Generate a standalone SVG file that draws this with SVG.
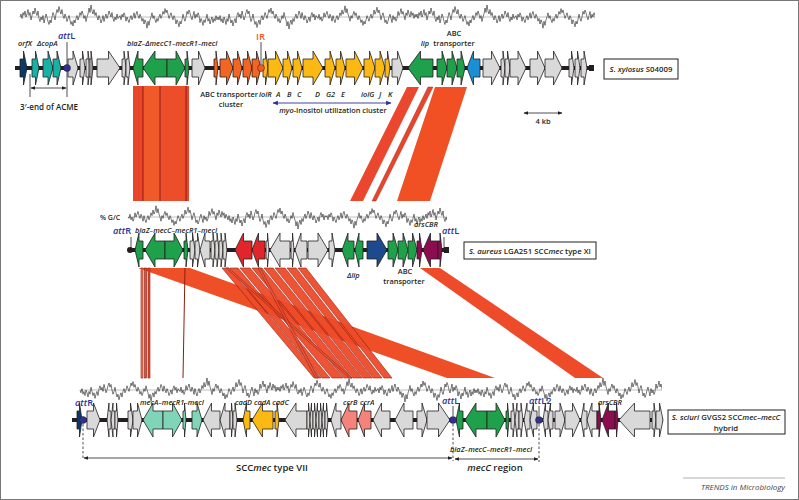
<svg xmlns="http://www.w3.org/2000/svg" xmlns:xlink="http://www.w3.org/1999/xlink" width="799" height="500" viewBox="0 0 799 500">
<style>
text{font-family:"Open Sans","Liberation Sans",sans-serif;fill:#231f20;font-size:7.4px;font-weight:600}
.it{font-style:italic}
.att{fill:#2e3192;font-size:9.2px;font-weight:600}
.bb{stroke:#231f20;stroke-width:4}
.gy{fill:#d9d9d9}.gd{fill:#9a9a9a}.gr{fill:#1fa04a}.or{fill:#f26522}.ye{fill:#fdb913}
.lb{fill:#1b8fd6}.nv{fill:#1c4a8c}.nv0{fill:#0b3a66}.te{fill:#17b2a5}.mi{fill:#80d4b8}
.rd{fill:#e0262b}.pk{fill:#f4837b}.ma{fill:#8c0d4f}
.bl{stroke:#8c1d12;stroke-width:0.6;fill:#ee4b2a}
.gc{fill:none;stroke:#231f20;stroke-width:0.6}
.base{stroke:#b0b0b0;stroke-width:0.8}
.box{fill:#fff;stroke:#231f20;stroke-width:1}
.ln{stroke:#231f20;stroke-width:0.8;fill:none}
</style>
<defs>
<polygon id="r" points="0,-9 0.5,-9 0.5,-17 1,0 0.5,17 0.5,9 0,9" stroke="#231f20" stroke-width="0.8" vector-effect="non-scaling-stroke"/>
<path id="n" class="gc" vector-effect="non-scaling-stroke" d="M0,0L1,-2 2,1 3,-3 4,-1 5,-4 6,0 7,-2 8,-5 9,-1 10,-3 11,2 12,-1 13,-4 14,-2 15,-6 16,-3 17,-1 18,-4 19,1 20,3 21,0 22,2 23,-1 24,4 25,1 26,-2 27,0 28,3 29,5 30,2 31,4 32,0 33,-3 34,-1 35,2 36,-2 37,-5 38,-3 39,-7 40,-4 41,-2 42,-5 43,-1 44,1 45,-2 46,0 47,3 48,1 49,-1 50,2 51,5 52,3 53,6 54,2 55,4 56,1 57,-1 58,2 59,0 60,-3 61,-1 62,-4 63,-2 64,1 65,-1 66,3 67,0 68,-2 69,-6 70,-3 71,-8 72,-4 73,-2 74,-5 75,-1 76,-3 77,0 78,2 79,-1 80,1 81,4 82,2 83,-1 84,3 85,0 86,-2 87,1 88,-1 89,-4 90,-2 91,0 92,-3 93,1 94,3 95,0 96,2 97,-2 98,1 99,0"/>
<marker id="ah" viewBox="0 0 10 10" refX="9" refY="5" markerWidth="6" markerHeight="6" orient="auto-start-reverse"><path d="M0,1L10,5L0,9z" fill="#231f20"/></marker>
<marker id="ahb" viewBox="0 0 10 10" refX="9" refY="5" markerWidth="6" markerHeight="6" orient="auto-start-reverse"><path d="M0,1L10,5L0,9z" fill="#2e3192"/></marker>
<clipPath id="c1"><rect x="18" y="0" width="577" height="40"/></clipPath>
<clipPath id="c2"><rect x="126" y="200" width="321" height="35"/></clipPath>
<clipPath id="c3"><rect x="78" y="372" width="584" height="35"/></clipPath>
</defs>
<rect x="0.5" y="0.5" width="798" height="499" fill="#fff" stroke="#777"/>

<g id="connectors">
<rect x="133" y="86" width="10" height="115" fill="#e8452b"/>
<rect x="143" y="86" width="17" height="115" fill="#f05a2a"/>
<rect x="160" y="86" width="26" height="115" fill="#ec4e2a"/>
<rect x="186" y="86" width="3" height="115" fill="#e8452b"/>
<path d="M143,86V201M160,86V201M186,86V201" stroke="#8c1d12" stroke-width="1"/>
<polygon points="407,87 419,87 363,201 350,201" fill="#eb462e"/>
<polygon points="428,87 433,87 376,201 372,201" fill="#e8452b" stroke="#8c1d12" stroke-width="0.4"/>
<polygon points="435,87 467,87 430,201 397,201" fill="#f05023"/>
<polygon points="138,268 190,268 495,378 447,378" fill="#ee4f26"/>
<rect x="141" y="268" width="2" height="110" class="bl" style="fill:#f47b5a"/>
<rect x="144.5" y="268" width="2" height="110" class="bl"/>
<rect x="148" y="268" width="2" height="110" class="bl"/>
<path d="M185,268L183,378" stroke="#8c1d12" stroke-width="1"/>
<g class="bl" opacity="0.95">
<polygon points="222,268 229,268 321,378 314,378"/>
<polygon points="230,268 238,268 330,378 322,378"/>
<polygon points="240,268 250,268 343,378 332,378"/>
<polygon points="252,268 262,268 352,378 344,378"/>
<polygon points="264,268 273,268 362,378 353,378"/>
<polygon points="275,268 285,268 372,378 363,378"/>
<polygon points="287,268 296,268 382,378 373,378"/>
<polygon points="298,268 306,268 392,378 384,378"/>
<polygon points="226,268 228.5,268 352,378 349.5,378"/>
<polygon points="258,268 260.5,268 318,378 315.5,378"/>
</g>
<polygon points="420,268 440,268 603,378 575,378" fill="#ee4b2a"/>
</g>

<g id="gc-plots">
<line x1="20" y1="17" x2="595" y2="17" class="base"/>
<g clip-path="url(#c1)">
<use href="#n" transform="translate(20,17) scale(1,1.5)"/>
<use href="#n" transform="translate(218,17) scale(-1,-1.4)"/>
<use href="#n" transform="translate(218,17) scale(1,-1.5)"/>
<use href="#n" transform="translate(416,17) scale(-1,1.4)"/>
<use href="#n" transform="translate(416,17) scale(1,1.5)"/>
<use href="#n" transform="translate(614,17) scale(-1,-1.4)"/>
</g>
<line x1="128" y1="217" x2="447" y2="217" class="base"/>
<g clip-path="url(#c2)">
<use href="#n" transform="translate(227,217) scale(-1,1.4)"/>
<use href="#n" transform="translate(227,217) scale(1,-1.5)"/>
<use href="#n" transform="translate(425,217) scale(-1,-1.4)"/>
<use href="#n" transform="translate(425,217) scale(1,1.5)"/>
</g>
<line x1="80" y1="390" x2="662" y2="390" class="base"/>
<g clip-path="url(#c3)">
<use href="#n" transform="translate(80,390) scale(1,-1.4)"/>
<use href="#n" transform="translate(278,390) scale(-1,1.5)"/>
<use href="#n" transform="translate(278,390) scale(1,1.4)"/>
<use href="#n" transform="translate(476,390) scale(-1,-1.5)"/>
<use href="#n" transform="translate(476,390) scale(1,-1.4)"/>
<use href="#n" transform="translate(674,390) scale(-1,1.5)"/>
</g>
</g>

<g id="xylosus">
<line x1="15" y1="68" x2="592" y2="68" class="bb"/>
<rect x="589" y="65" width="5" height="6" fill="#231f20"/>
<use href="#r" class="nv0" transform="translate(20,68) scale(7,1)"/>
<use href="#r" class="te" transform="translate(32,68) scale(7,1)"/>
<use href="#r" class="te" transform="translate(43,68) scale(10,1)"/>
<use href="#r" class="te" transform="translate(53,68) scale(8,1)"/>
<use href="#r" class="gy" transform="translate(68,68) scale(10,1)"/>
<use href="#r" class="gy" transform="translate(80,68) scale(5,1)"/>
<use href="#r" class="gy" transform="translate(86,68) scale(4,1)"/>
<use href="#r" class="gd" transform="translate(89,68) scale(4,1)"/>
<use href="#r" class="gy" transform="translate(97,68) scale(23,1)"/>
<use href="#r" class="gy" transform="translate(122,68) scale(4,1)"/>
<use href="#r" class="gy" transform="translate(126,68) scale(4,1)"/>
<use href="#r" class="gr" transform="translate(143,68) scale(-10,1)"/>
<use href="#r" class="gr" transform="translate(167,68) scale(-24,1)"/>
<use href="#r" class="gr" transform="translate(167,68) scale(18,1)"/>
<use href="#r" class="gr" transform="translate(185,68) scale(4,1)"/>
<use href="#r" class="gy" transform="translate(192,68) scale(13,1)"/>
<use href="#r" class="or" transform="translate(214,68) scale(4,1)"/>
<use href="#r" class="or" transform="translate(220,68) scale(13,1)"/>
<use href="#r" class="or" transform="translate(233,68) scale(9,1)"/>
<use href="#r" class="or" transform="translate(243,68) scale(9,1)"/>
<use href="#r" class="or" transform="translate(252,68) scale(9,1)"/>
<use href="#r" class="ye" transform="translate(263,68) scale(5,1)"/>
<use href="#r" class="ye" transform="translate(268,68) scale(15,1)"/>
<use href="#r" class="ye" transform="translate(283,68) scale(9,1)"/>
<use href="#r" class="ye" transform="translate(293,68) scale(9,1)"/>
<use href="#r" class="ye" transform="translate(303,68) scale(20,1)"/>
<use href="#r" class="ye" transform="translate(325,68) scale(10,1)"/>
<use href="#r" class="ye" transform="translate(336,68) scale(9,1)"/>
<use href="#r" class="ye" transform="translate(346,68) scale(17,1)"/>
<use href="#r" class="ye" transform="translate(364,68) scale(11,1)"/>
<use href="#r" class="ye" transform="translate(375,68) scale(10,1)"/>
<use href="#r" class="ye" transform="translate(385,68) scale(5,1)"/>
<use href="#r" class="gy" transform="translate(392,68) scale(11,1)"/>
<use href="#r" class="gr" transform="translate(433,68) scale(-25,1)"/>
<use href="#r" class="gr" transform="translate(437,68) scale(10,1)"/>
<use href="#r" class="gr" transform="translate(447,68) scale(10,1)"/>
<use href="#r" class="gr" transform="translate(457,68) scale(8,1)"/>
<use href="#r" class="lb" transform="translate(480,68) scale(-13,1)"/>
<use href="#r" class="gy" transform="translate(483,68) scale(17,1)"/>
<use href="#r" class="gy" transform="translate(501,68) scale(4,1)"/>
<use href="#r" class="gy" transform="translate(505,68) scale(5,1)"/>
<use href="#r" class="gy" transform="translate(510,68) scale(16,1)"/>
<use href="#r" class="gy" transform="translate(530,68) scale(15,1)"/>
<use href="#r" class="gy" transform="translate(545,68) scale(17,1)"/>
<use href="#r" class="gy" transform="translate(569,68) scale(5,1)"/>
<use href="#r" class="gy" transform="translate(575,68) scale(5,1)"/>
<use href="#r" class="gy" transform="translate(581,68) scale(6,1)"/>
<line x1="67" y1="42" x2="67" y2="97" class="ln"/>
<line x1="30" y1="74" x2="30" y2="97" class="ln"/>
<circle cx="67" cy="68" r="3.5" fill="#2e3192" stroke="#231f20" stroke-width="0.5"/>
<line x1="261" y1="42" x2="261" y2="64" class="ln"/>
<circle cx="261" cy="68" r="3.5" fill="#f15a24" stroke="#231f20" stroke-width="0.5"/>
<line x1="31" y1="88" x2="66" y2="88" class="ln" marker-start="url(#ah)" marker-end="url(#ah)"/>
<text x="18" y="46" class="it">orfX</text>
<text x="37" y="46" class="it">ΔcopA</text>
<text x="58" y="39" class="att"><tspan style="font-style:italic">att</tspan>L</text>
<text x="127" y="46" class="it">blaZ–ΔmecC1–mecR1–mecI</text>
<text x="256" y="40" style="fill:#f15a24;font-size:9.5px">IR</text>
<text x="20" y="110" style="font-size:8px">3′-end of ACME</text>
<text x="229" y="97" text-anchor="middle">ABC transporter</text>
<text x="231" y="107" text-anchor="middle">cluster</text>
<text x="259" y="97" class="it">iolR</text>
<text x="276" y="97" class="it">A</text>
<text x="287" y="97" class="it">B</text>
<text x="297" y="97" class="it">C</text>
<text x="315" y="97" class="it">D</text>
<text x="326" y="97" class="it">G2</text>
<text x="341" y="97" class="it">E</text>
<text x="361" y="97" class="it">iolG</text>
<text x="379" y="97" class="it">J</text>
<text x="388" y="97" class="it">K</text>
<line x1="273" y1="103" x2="391" y2="103" stroke="#2e3192" stroke-width="0.9" marker-start="url(#ahb)" marker-end="url(#ahb)"/>
<text x="333" y="113" text-anchor="middle"><tspan class="it">myo</tspan>-Inositol utilization cluster</text>
<text x="425" y="46" class="it" text-anchor="middle">lip</text>
<text x="454" y="36" text-anchor="middle">ABC</text>
<text x="454" y="46" text-anchor="middle">transporter</text>
<rect x="604" y="59" width="74" height="20" class="box"/>
<text x="641" y="72" text-anchor="middle" style="font-size:7.8px"><tspan class="it">S. xylosus</tspan> S04009</text>
<line x1="524" y1="113" x2="562" y2="113" class="ln" marker-start="url(#ah)" marker-end="url(#ah)"/>
<text x="543" y="124" text-anchor="middle">4 kb</text>
</g>

<g id="aureus">
<line x1="130" y1="250" x2="447" y2="250" class="bb"/>
<circle cx="130" cy="250" r="3" fill="#231f20"/>
<rect x="444" y="247" width="5" height="6" fill="#231f20"/>
<use href="#r" class="gr" transform="translate(143,250) scale(-8,1)"/>
<use href="#r" class="gr" transform="translate(165,250) scale(-20,1)"/>
<use href="#r" class="gr" transform="translate(165,250) scale(18,1)"/>
<use href="#r" class="gr" transform="translate(184,250) scale(4,1)"/>
<use href="#r" class="gy" transform="translate(190,250) scale(5,1)"/>
<use href="#r" class="gy" transform="translate(195,250) scale(5,1)"/>
<use href="#r" class="gy" transform="translate(210,250) scale(-10,1)"/>
<use href="#r" class="gy" transform="translate(211,250) scale(4,1)"/>
<use href="#r" class="gy" transform="translate(215,250) scale(4,1)"/>
<use href="#r" class="gy" transform="translate(219,250) scale(4,1)"/>
<use href="#r" class="gy" transform="translate(223,250) scale(4,1)"/>
<use href="#r" class="rd" transform="translate(252,250) scale(-17,1)"/>
<use href="#r" class="rd" transform="translate(265,250) scale(-13,1)"/>
<use href="#r" class="gy" transform="translate(266,250) scale(3,1)"/>
<use href="#r" class="gy" transform="translate(290,250) scale(-20,1)"/>
<use href="#r" class="gy" transform="translate(291,250) scale(3,1)"/>
<use href="#r" class="gy" transform="translate(307,250) scale(-12,1)"/>
<use href="#r" class="gy" transform="translate(308,250) scale(20,1)"/>
<use href="#r" class="gy" transform="translate(329,250) scale(6,1)"/>
<use href="#r" class="gr" transform="translate(354,250) scale(-12,1)"/>
<use href="#r" class="gr" transform="translate(363,250) scale(-8,1)"/>
<use href="#r" class="nv" transform="translate(367,250) scale(20,1)"/>
<use href="#r" class="gr" transform="translate(388,250) scale(10,1)"/>
<use href="#r" class="gr" transform="translate(398,250) scale(10,1)"/>
<use href="#r" class="gr" transform="translate(408,250) scale(9,1)"/>
<use href="#r" class="ma" transform="translate(417,250) scale(5,1)"/>
<use href="#r" class="ma" transform="translate(438,250) scale(-15,1)"/>
<use href="#r" class="ma" transform="translate(438,250) scale(4,1)"/>
<line x1="131" y1="237" x2="131" y2="250" class="ln"/>
<line x1="444" y1="237" x2="444" y2="250" class="ln"/>
<text x="100" y="220" style="font-size:7px">% G/C</text>
<text x="113" y="234" class="att"><tspan style="font-style:italic">att</tspan>R</text>
<text x="135" y="233" class="it">blaZ–mecC–mecR1–mecI</text>
<text x="414" y="227" class="it">arsCBR</text>
<text x="442" y="234" class="att"><tspan style="font-style:italic">att</tspan>L</text>
<text x="347" y="278" class="it">Δlip</text>
<text x="405" y="274" text-anchor="middle">ABC</text>
<text x="404" y="284" text-anchor="middle">transporter</text>
<rect x="464" y="242" width="132" height="17" class="box"/>
<text x="530" y="254" text-anchor="middle" style="font-size:7.8px"><tspan class="it">S. aureus</tspan> LGA251 SCC<tspan class="it">mec</tspan> type XI</text>
</g>

<g id="sciuri">
<line x1="72" y1="420" x2="663" y2="420" class="bb"/>
<use href="#r" class="nv0" transform="translate(77,420) scale(5,1)"/>
<use href="#r" class="gy" transform="translate(87,420) scale(13,1)"/>
<use href="#r" class="gy" transform="translate(111,420) scale(-4,1)"/>
<use href="#r" class="gy" transform="translate(115,420) scale(-4,1)"/>
<use href="#r" class="gy" transform="translate(115,420) scale(3,1)"/>
<use href="#r" class="gy" transform="translate(128,420) scale(5,1)"/>
<use href="#r" class="gy" transform="translate(133,420) scale(9,1)"/>
<use href="#r" class="mi" transform="translate(163,420) scale(-20,1)"/>
<use href="#r" class="mi" transform="translate(163,420) scale(19,1)"/>
<use href="#r" class="mi" transform="translate(183,420) scale(3,1)"/>
<use href="#r" class="mi" transform="translate(192,420) scale(10,1)"/>
<use href="#r" class="gy" transform="translate(220,420) scale(-17,1)"/>
<use href="#r" class="gy" transform="translate(230,420) scale(-10,1)"/>
<use href="#r" class="gy" transform="translate(230,420) scale(3,1)"/>
<use href="#r" class="gy" transform="translate(233,420) scale(4,1)"/>
<use href="#r" class="ye" transform="translate(250,420) scale(-7,1)"/>
<use href="#r" class="ye" transform="translate(273,420) scale(-21,1)"/>
<use href="#r" class="ye" transform="translate(275,420) scale(4,1)"/>
<use href="#r" class="gy" transform="translate(307,420) scale(-22,1)"/>
<use href="#r" class="gy" transform="translate(307,420) scale(3,1)"/>
<use href="#r" class="gy" transform="translate(313,420) scale(-3,1)"/>
<use href="#r" class="gy" transform="translate(313,420) scale(3,1)"/>
<use href="#r" class="gy" transform="translate(319,420) scale(-3,1)"/>
<use href="#r" class="gy" transform="translate(319,420) scale(3,1)"/>
<use href="#r" class="gy" transform="translate(325,420) scale(-3,1)"/>
<use href="#r" class="gy" transform="translate(325,420) scale(3,1)"/>
<use href="#r" class="gy" transform="translate(341,420) scale(-10,1)"/>
<use href="#r" class="pk" transform="translate(357,420) scale(-16,1)"/>
<use href="#r" class="pk" transform="translate(371,420) scale(-13,1)"/>
<use href="#r" class="gy" transform="translate(390,420) scale(-17,1)"/>
<use href="#r" class="gy" transform="translate(413,420) scale(-18,1)"/>
<use href="#r" class="gy" transform="translate(417,420) scale(10,1)"/>
<use href="#r" class="gy" transform="translate(427,420) scale(23,1)"/>
<use href="#r" class="gr" transform="translate(463,420) scale(-7,1)"/>
<use href="#r" class="gr" transform="translate(487,420) scale(-22,1)"/>
<use href="#r" class="gr" transform="translate(487,420) scale(18,1)"/>
<use href="#r" class="gr" transform="translate(506,420) scale(3,1)"/>
<use href="#r" class="gy" transform="translate(511,420) scale(4,1)"/>
<use href="#r" class="gy" transform="translate(519,420) scale(-4,1)"/>
<use href="#r" class="gy" transform="translate(519,420) scale(4,1)"/>
<use href="#r" class="gy" transform="translate(530,420) scale(-6,1)"/>
<use href="#r" class="gy" transform="translate(537,420) scale(-7,1)"/>
<use href="#r" class="gy" transform="translate(548,420) scale(-5,1)"/>
<use href="#r" class="gy" transform="translate(553,420) scale(-5,1)"/>
<use href="#r" class="gy" transform="translate(555,420) scale(10,1)"/>
<use href="#r" class="gy" transform="translate(565,420) scale(15,1)"/>
<use href="#r" class="gy" transform="translate(587,420) scale(-6,1)"/>
<use href="#r" class="gy" transform="translate(597,420) scale(-10,1)"/>
<use href="#r" class="ma" transform="translate(597,420) scale(4,1)"/>
<use href="#r" class="ma" transform="translate(615,420) scale(-13,1)"/>
<use href="#r" class="ma" transform="translate(615,420) scale(3,1)"/>
<use href="#r" class="gy" transform="translate(650,420) scale(-31,1)"/>
<use href="#r" class="gy" transform="translate(652,420) scale(4,1)"/>
<use href="#r" class="gy" transform="translate(656,420) scale(7,1)"/>
<line x1="453" y1="406" x2="453" y2="416" class="ln"/>
<line x1="539" y1="406" x2="539" y2="416" class="ln"/>
<path d="M83,424V458M453,424V461M539,424V462" class="ln" stroke-dasharray="2.5,2"/>
<circle cx="83" cy="420" r="3.5" fill="#2e3192" stroke="#231f20" stroke-width="0.5"/>
<circle cx="453" cy="420" r="3.5" fill="#2e3192" stroke="#231f20" stroke-width="0.5"/>
<circle cx="539" cy="420" r="3.5" fill="#2e3192" stroke="#231f20" stroke-width="0.5"/>
<line x1="84" y1="458" x2="452" y2="458" class="ln" marker-start="url(#ah)" marker-end="url(#ah)"/>
<line x1="455" y1="459" x2="538" y2="459" class="ln" marker-start="url(#ah)" marker-end="url(#ah)"/>
<text x="75" y="406" class="att"><tspan style="font-style:italic">att</tspan>R</text>
<text x="140" y="405" class="it">mecA–mecR1–mecI</text>
<text x="235" y="405" class="it">cadD cadA cadC</text>
<text x="343" y="405" class="it">ccrB</text>
<text x="360" y="405" class="it">ccrA</text>
<text x="442" y="404" class="att"><tspan style="font-style:italic">att</tspan>L</text>
<text x="529" y="404" class="att"><tspan style="font-style:italic">att</tspan>L2</text>
<text x="598" y="405" class="it">arsCBR</text>
<text x="450" y="452" class="it">blaZ–mecC–mecR1–mecI</text>
<text x="272" y="471" text-anchor="middle" style="font-size:9.5px">SCC<tspan class="it">mec</tspan> type VII</text>
<text x="495" y="471" text-anchor="middle" style="font-size:9.5px"><tspan class="it">mecC</tspan> region</text>
<rect x="668" y="410" width="117" height="24" class="box"/>
<text x="726" y="420" text-anchor="middle" style="font-size:7.8px"><tspan class="it">S. sciuri</tspan> GVGS2 SCC<tspan class="it">mec</tspan>–<tspan class="it">mecC</tspan></text>
<text x="726" y="431" text-anchor="middle" style="font-size:7.8px">hybrid</text>
</g>

<g id="footer">
<line x1="683" y1="478" x2="785" y2="478" stroke="#999" stroke-width="0.8"/>
<text x="785" y="490" text-anchor="end" class="it" style="fill:#444;font-size:8px;font-weight:400">TRENDS in Microbiology</text>
</g>
</svg>
